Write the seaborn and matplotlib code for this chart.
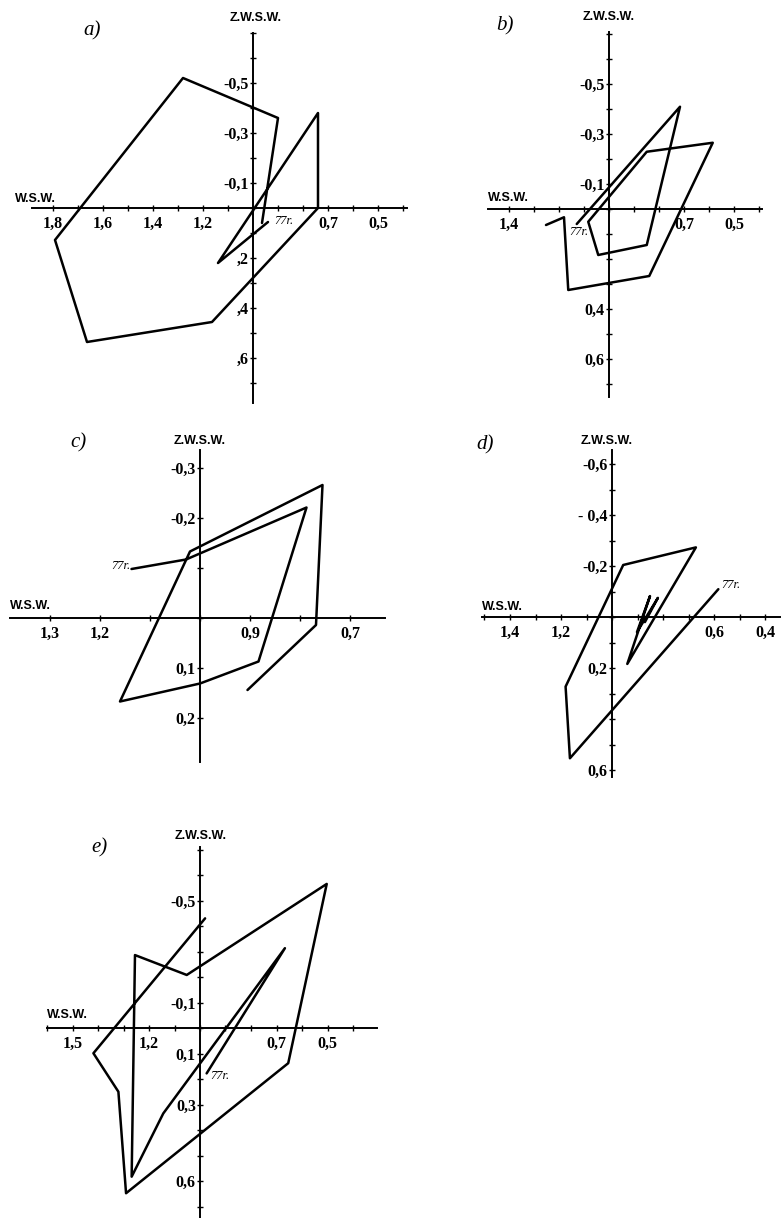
import numpy as np
import matplotlib
matplotlib.use("Agg")
import matplotlib.pyplot as plt
import seaborn as sns
from matplotlib.ticker import MultipleLocator

sns.set_theme(style="white")
plt.rcParams['font.family'] = ['Liberation Serif', 'DejaVu Serif']
plt.rcParams['text.color'] = 'black'

W, H = 781, 1218

# --- data: W.S.W. (x) against Z.W.S.W. (y), path ---
a_x = [0.94, 1.14, 0.74, 0.74, 1.164, 1.664, 1.792, 1.28, 0.90, 0.964]
a_y = [0.056, 0.22, -0.38, 0.0, 0.456, 0.536, 0.128, -0.52, -0.36, 0.06]

b_x = [1.129, 0.716, 0.849, 1.043, 1.083, 0.849, 0.585, 0.839, 1.163, 1.18, 1.252]
b_y = [0.06, -0.409, 0.144, 0.184, 0.051, -0.229, -0.265, 0.268, 0.324, 0.033, 0.064]

c_x = [1.137, 1.028, 0.787, 0.883, 1.0, 1.16, 1.02, 0.755, 0.768, 0.905]
c_y = [-0.098, -0.117, -0.221, 0.087, 0.131, 0.167, -0.133, -0.266, 0.014, 0.144]

d_x = [0.583, 1.165, 1.182, 0.956, 0.671, 0.94, 0.851, 0.902, 0.820, 0.871]
d_y = [-0.109, 0.554, 0.273, -0.204, -0.273, 0.184, -0.082, 0.059, -0.075, 0.020]

e_x = [0.974, 0.667, 1.144, 1.268, 1.255, 1.052, 0.503, 0.654, 1.29, 1.32, 1.418, 0.98]
e_y = [0.178, -0.313, 0.335, 0.583, -0.286, -0.208, -0.565, 0.138, 0.648, 0.25, 0.099, -0.43]

a_xticks = [1.8, 1.6, 1.4, 1.2, 0.7, 0.5]
a_xlabels = ["1,8", "1,6", "1,4", "1,2", "0,7", "0,5"]
a_yticks = [-0.5, -0.3, -0.1, 0.2, 0.4, 0.6]
a_ylabels = ["-0,5", "-0,3", "-0,1", ",2", ",4", ",6"]

b_xticks = [1.4, 0.7, 0.5]
b_xlabels = ["1,4", "0,7", "0,5"]
b_yticks = [-0.5, -0.3, -0.1, 0.4, 0.6]
b_ylabels = ["-0,5", "-0,3", "-0,1", "0,4", "0,6"]

c_xticks = [1.3, 1.2, 0.9, 0.7]
c_xlabels = ["1,3", "1,2", "0,9", "0,7"]
c_yticks = [-0.3, -0.2, 0.1, 0.2]
c_ylabels = ["-0,3", "-0,2", "0,1", "0,2"]

d_xticks = [1.4, 1.2, 0.6, 0.4]
d_xlabels = ["1,4", "1,2", "0,6", "0,4"]
d_yticks = [-0.6, -0.4, -0.2, 0.2, 0.6]
d_ylabels = ["-0,6", "- 0,4", "-0,2", "0,2", "0,6"]

e_xticks = [1.5, 1.2, 0.7, 0.5]
e_xlabels = ["1,5", "1,2", "0,7", "0,5"]
e_yticks = [-0.5, -0.1, 0.1, 0.3, 0.6]
e_ylabels = ["-0,5", "-0,1", "0,1", "0,3", "0,6"]

# --- layout in pixels: origin (ox, oy), px per unit, axis extents, text spots ---
panels = [
    dict(name="a)", x=a_x, y=a_y, xt=a_xticks, xl=a_xlabels, yt=a_yticks, yl=a_ylabels,
         ox=253, oy=208, s=250, ext=(32, 407, 33, 403),
         letter=(92, 31), zlab=(256, 18), wlab=(15, 199), yr=(274, 221)),
    dict(name="b)", x=b_x, y=b_y, xt=b_xticks, xl=b_xlabels, yt=b_yticks, yl=b_ylabels,
         ox=609, oy=209, s=250, ext=(488, 762, 32, 397),
         letter=(505, 26), zlab=(609, 17), wlab=(488, 198), yr=(569, 232)),
    dict(name="c)", x=c_x, y=c_y, xt=c_xticks, xl=c_xlabels, yt=c_yticks, yl=c_ylabels,
         ox=200, oy=618, s=500, ext=(10, 385, 450, 762),
         letter=(78, 443), zlab=(200, 441), wlab=(10, 606), yr=(111, 566)),
    dict(name="d)", x=d_x, y=d_y, xt=d_xticks, xl=d_xlabels, yt=d_yticks, yl=d_ylabels,
         ox=612, oy=617, s=255, ext=(482, 780, 450, 777),
         letter=(485, 445), zlab=(607, 441), wlab=(482, 607), yr=(721, 585)),
    dict(name="e)", x=e_x, y=e_y, xt=e_xticks, xl=e_xlabels, yt=e_yticks, yl=e_ylabels,
         ox=200, oy=1028, s=255, ext=(47, 377, 847, 1218),
         letter=(99, 848), zlab=(201, 836), wlab=(47, 1015), yr=(210, 1076)),
]

fig = plt.figure(figsize=(W / 100, H / 100), dpi=100)


def fx(px):
    return px / W


def fy(py):
    return 1 - py / H


tick_font = dict(family=['Liberation Serif', 'DejaVu Serif'], weight='bold', size=11.5)

for p in panels:
    xl_px, xr_px, yt_px, yb_px = p["ext"]
    ox, oy, s = p["ox"], p["oy"], p["s"]
    ax = fig.add_axes([fx(xl_px), fy(yb_px), (xr_px - xl_px) / W, (yb_px - yt_px) / H])
    ax.set_facecolor('none')

    sns.lineplot(x=p["x"], y=p["y"], sort=False, estimator=None, color='black',
                 linewidth=1.8, ax=ax, clip_on=False)

    # reversed axes crossing at W.S.W. = 1.0, Z.W.S.W. = 0
    ax.set_xlim(1 + (ox - xl_px) / s, 1 - (xr_px - ox) / s)
    ax.set_ylim((yb_px - oy) / s, (yt_px - oy) / s)

    for side in ['top', 'right']:
        ax.spines[side].set_visible(False)
    ax.spines['left'].set_position(('data', 1.0))
    ax.spines['bottom'].set_position(('data', 0.0))
    for side in ['left', 'bottom']:
        ax.spines[side].set_color('black')
        ax.spines[side].set_linewidth(1.4)

    ax.set_xticks(p["xt"])
    ax.set_xticklabels(p["xl"], fontdict=tick_font)
    ax.set_yticks(p["yt"])
    ax.set_yticklabels(p["yl"], fontdict=tick_font)
    ax.xaxis.set_minor_locator(MultipleLocator(0.1))
    ax.yaxis.set_minor_locator(MultipleLocator(0.1))
    ax.tick_params(which='both', direction='inout', length=4, width=1, color='black',
                   bottom=True, left=True, labelcolor='black')
    ax.tick_params(axis='x', pad=4)
    ax.tick_params(axis='y', pad=1)
    ax.set_xlabel("")
    ax.set_ylabel("")

    fig.text(fx(p["letter"][0]), fy(p["letter"][1]), p["name"], ha='center', va='center',
             fontsize=15, style='italic', color='black',
             family=['Liberation Serif', 'DejaVu Serif'])
    fig.text(fx(p["zlab"][0]), fy(p["zlab"][1]), "Z.W.S.W.", ha='center', va='center',
             fontsize=9, weight='bold', color='black',
             family=['Liberation Sans Narrow', 'Liberation Sans', 'DejaVu Sans'])
    fig.text(fx(p["wlab"][0]), fy(p["wlab"][1]), "W.S.W.", ha='left', va='center',
             fontsize=9, weight='bold', color='black',
             family=['Liberation Sans Narrow', 'Liberation Sans', 'DejaVu Sans'])
    fig.text(fx(p["yr"][0]), fy(p["yr"][1]), "77r.", ha='left', va='center',
             fontsize=9, style='italic', color='black',
             family=['Liberation Serif', 'DejaVu Serif'])

fig.savefig("out.png", dpi=100, facecolor='white')
